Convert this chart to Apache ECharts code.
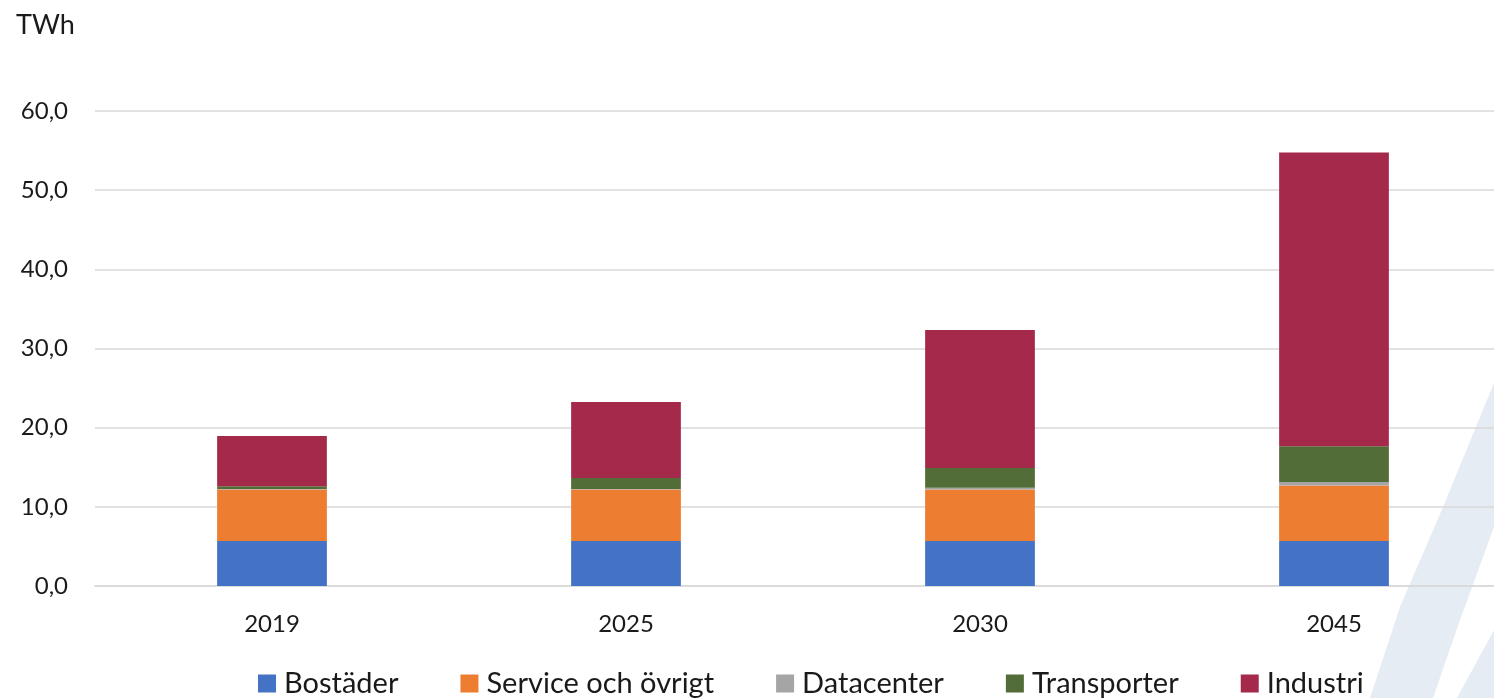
<!DOCTYPE html>
<html>
<head>
<meta charset="utf-8">
<script src="https://cdn.jsdelivr.net/npm/echarts@6/dist/echarts.min.js"></script>
<style>
html,body{margin:0;padding:0;background:#fff;}
#chart{width:1494px;height:698px;}
</style>
</head>
<body>
<div id="chart"></div>
<script>
const categories = ['2019', '2025', '2030', '2045'];
const bostader = [5.7, 5.7, 5.7, 5.7];
const service = [6.5, 6.5, 6.5, 7.0];
const datacenter = [0.05, 0.05, 0.2, 0.45];
const transporter = [0.35, 1.4, 2.5, 4.5];
const industri = [6.35, 9.6, 17.45, 37.1];
const yTicks = [0, 10, 20, 30, 40, 50, 60];
const unitLabel = 'TWh';

const FONT = 'Lato, "Open Sans", sans-serif';
const chart = echarts.init(document.getElementById('chart'));

function mk(name, data, color) {
  return {
    name: name, type: 'bar', stack: 'total', data: data,
    barWidth: '31%',
    itemStyle: { color: color },
    emphasis: { disabled: true }
  };
}

chart.setOption({
  animation: false,
  backgroundColor: '#ffffff',
  textStyle: { fontFamily: FONT },
  title: {
    text: unitLabel, left: 11, top: 7,
    textStyle: { fontFamily: FONT, fontSize: 27, fontWeight: 'normal', color: '#1a1a1a' }
  },
  graphic: [
    { type: 'polygon', z: -10, silent: true,
      shape: { points: [[1370,698],[1400,607],[1443,507],[1494,383],[1494,527],[1460,620],[1433,698]] },
      style: { fill: '#E6ECF4' } },
    { type: 'polygon', z: -10, silent: true,
      shape: { points: [[1457,698],[1494,630],[1494,698]] },
      style: { fill: '#E6ECF4' } }
  ],
  grid: { left: 95, top: 111, width: 1416, bottom: 112, containLabel: false, outerBoundsMode: 'none' },
  legend: {
    left: 258, top: 669, padding: 0,
    itemWidth: 18, itemHeight: 18, itemGap: 62,
    icon: 'rect',
    textStyle: { fontFamily: FONT, fontSize: 29, color: '#1a1a1a', padding: [0,0,0,3] },
    data: ['Bostäder', 'Service och övrigt', 'Datacenter', 'Transporter', 'Industri']
  },
  xAxis: {
    type: 'category', data: categories,
    axisLine: { lineStyle: { color: '#D9D9D9', width: 1.5 } },
    axisTick: { show: false },
    axisLabel: { fontFamily: FONT, fontSize: 24, color: '#1a1a1a', margin: 26 }
  },
  yAxis: {
    type: 'value', min: yTicks[0], max: yTicks[yTicks.length - 1], interval: 10,
    axisLine: { show: false }, axisTick: { show: false },
    splitLine: { lineStyle: { color: '#D9D9D9', width: 1.5 } },
    axisLabel: {
      fontFamily: FONT, fontSize: 24, color: '#1a1a1a', margin: 27,
      formatter: v => v.toFixed(1).replace('.', ',')
    }
  },
  series: [
    mk('Bostäder', bostader, '#4472C4'),
    mk('Service och övrigt', service, '#ED7D31'),
    mk('Datacenter', datacenter, '#A5A5A5'),
    mk('Transporter', transporter, '#536D39'),
    mk('Industri', industri, '#A5294A')
  ]
});
</script>
</body>
</html>
